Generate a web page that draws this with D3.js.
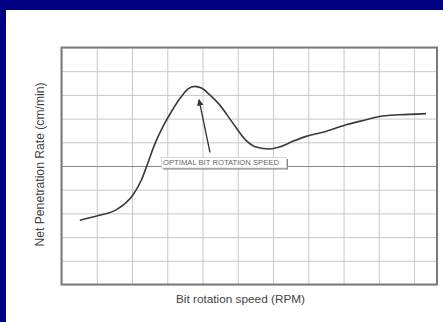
<!DOCTYPE html>
<html>
<head>
<meta charset="utf-8">
<script src="https://cdn.jsdelivr.net/npm/d3@7"></script>
<style>
  html, body { margin: 0; padding: 0; background: #000080; }
  svg { display: block; }
  .grid line { stroke: #c8c8c8; stroke-width: 1; }
  .grid path { display: none; }
  .grid text { display: none; }
</style>
</head>
<body>
<svg id="chart" width="443" height="322"></svg>
<script>
// chart data (arbitrary grid units)
var rpm = [0.52, 1.05, 1.56, 2.03, 2.27, 2.45, 2.64, 2.88, 3.12, 3.40, 3.59, 3.78, 3.97, 4.20, 4.48, 4.86, 5.24, 5.52, 5.90, 6.18, 6.56, 6.94, 7.41, 8.07, 8.64, 9.02, 9.58, 10.06, 10.34];
var rate = [2.71, 2.91, 3.16, 3.79, 4.42, 5.13, 5.90, 6.67, 7.30, 7.93, 8.25, 8.36, 8.29, 8.01, 7.59, 6.81, 6.07, 5.80, 5.72, 5.80, 6.04, 6.25, 6.42, 6.74, 6.95, 7.09, 7.16, 7.19, 7.21];
var xTicks = [0, 1, 2, 3, 4, 5, 6, 7, 8, 9, 10];
var yTicks = [0, 1, 2, 3, 4, 5, 6, 7, 8, 9, 10];
var xLabel = "Bit rotation speed (RPM)";
var yLabel = "Net Penetration Rate  (cm/min)";
var noteText = "OPTIMAL BIT ROTATION SPEED";
var peakPoint = [3.9, 7.8];

var svg = d3.select("#chart");

// white sheet inside the blue frame
svg.append("rect")
  .attr("x", 6).attr("y", 10)
  .attr("width", 437).attr("height", 312)
  .attr("fill", "#ffffff");

var margin = { left: 61.5, top: 47.5, right: 437, bottom: 284.5 };
var width = margin.right - margin.left,
  height = margin.bottom - margin.top;

var x = d3.scaleLinear().domain([0, 10.65]).range([margin.left, margin.right]);
var y = d3.scaleLinear().domain([0, 10]).range([margin.bottom, margin.top]);

// grid lines
svg.append("g")
  .attr("class", "grid")
  .attr("transform", "translate(0," + margin.bottom + ")")
  .call(d3.axisBottom(x).tickValues(xTicks).tickSize(-height).tickFormat(""));

svg.append("g")
  .attr("class", "grid")
  .attr("transform", "translate(" + margin.left + ",0)")
  .call(d3.axisLeft(y).tickValues(yTicks).tickSize(-width).tickFormat(""));

// the middle line is drawn darker
svg.append("line")
  .attr("x1", x(0)).attr("x2", x(10.65))
  .attr("y1", Math.round(y(5)) + 0.5).attr("y2", Math.round(y(5)) + 0.5)
  .attr("stroke", "#8a8a8a").attr("stroke-width", 1.2);

// plot frame
svg.append("rect")
  .attr("x", margin.left).attr("y", margin.top)
  .attr("width", width).attr("height", height)
  .attr("fill", "none")
  .attr("stroke", "#7a7a7a")
  .attr("stroke-width", 2);

// curve
var line = d3.line()
  .x(function (d, i) { return x(rpm[i]); })
  .y(function (d) { return y(d); })
  .curve(d3.curveMonotoneX);

svg.append("path")
  .datum(rate)
  .attr("d", line)
  .attr("fill", "none")
  .attr("stroke", "#3a3a3a")
  .attr("stroke-width", 1.6);

// annotation arrow
svg.append("defs").append("marker")
  .attr("id", "arrowhead")
  .attr("viewBox", "0 0 10 10")
  .attr("refX", 9).attr("refY", 5)
  .attr("markerWidth", 5).attr("markerHeight", 6)
  .attr("orient", "auto")
  .append("path")
  .attr("d", "M0,0 L10,5 L0,10 z")
  .attr("fill", "#333");

svg.append("line")
  .attr("x1", 210).attr("y1", 152.5)
  .attr("x2", x(peakPoint[0])).attr("y2", y(peakPoint[1]))
  .attr("stroke", "#333")
  .attr("stroke-width", 1.3)
  .attr("marker-end", "url(#arrowhead)");

// annotation box with a shadow
var box = { x: 161.5, y: 157.5, w: 125, h: 10.5 };
svg.append("rect")
  .attr("x", box.x + 1.5).attr("y", box.y + 1.5)
  .attr("width", box.w).attr("height", box.h)
  .attr("fill", "#888");
svg.append("rect")
  .attr("x", box.x).attr("y", box.y)
  .attr("width", box.w).attr("height", box.h)
  .attr("fill", "#ffffff")
  .attr("stroke", "#cfcfcf")
  .attr("stroke-width", 0.8);
svg.append("text")
  .attr("x", box.x + 1.5).attr("y", box.y + 7.6)
  .attr("font-family", "Liberation Sans, Arial, sans-serif")
  .attr("font-size", 7.4)
  .attr("textLength", 116)
  .attr("lengthAdjust", "spacingAndGlyphs")
  .attr("fill", "#666")
  .text(noteText);

// axis titles
svg.append("text")
  .attr("x", 240.5).attr("y", 303)
  .attr("text-anchor", "middle")
  .attr("font-family", "Liberation Sans, Arial, sans-serif")
  .attr("font-size", 11.5)
  .attr("textLength", 129)
  .attr("lengthAdjust", "spacingAndGlyphs")
  .attr("fill", "#444")
  .text(xLabel);

svg.append("text")
  .attr("transform", "translate(44,164.5) rotate(-90)")
  .attr("text-anchor", "middle")
  .attr("font-family", "Liberation Sans, Arial, sans-serif")
  .attr("font-size", 12)
  .attr("textLength", 164)
  .attr("lengthAdjust", "spacingAndGlyphs")
  .attr("fill", "#444")
  .text(yLabel);
</script>
</body>
</html>
